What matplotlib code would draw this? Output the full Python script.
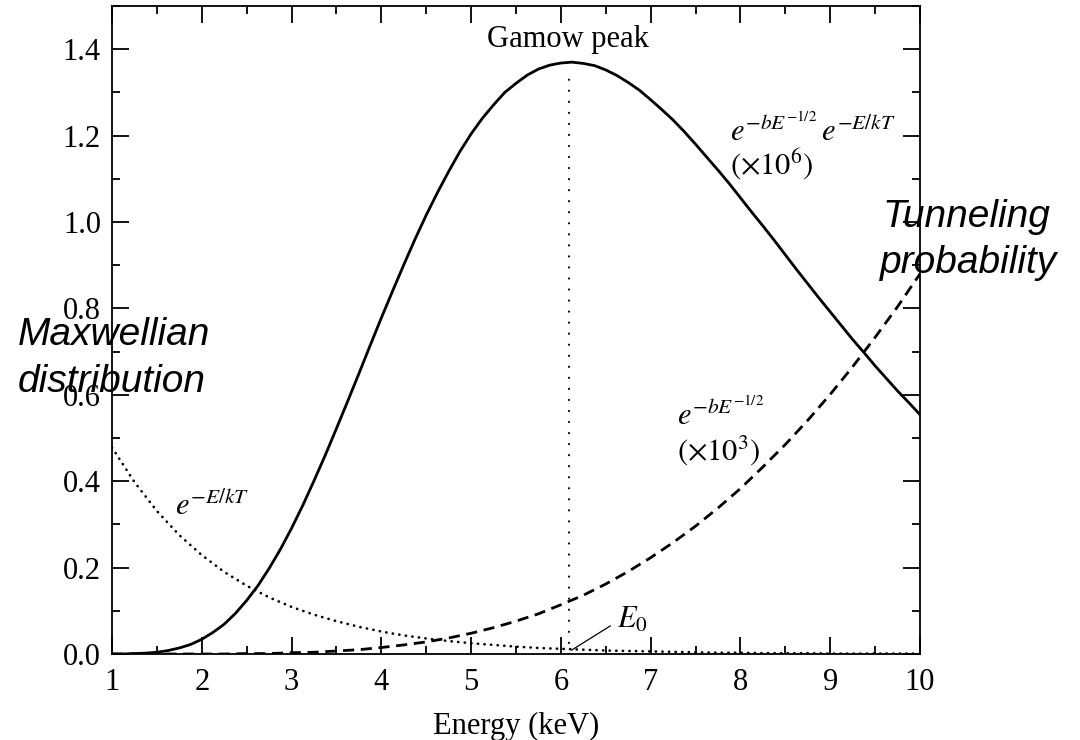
import matplotlib
matplotlib.use("Agg")
import matplotlib.pyplot as plt
from matplotlib.ticker import MultipleLocator, FormatStrFormatter

# values, every 0.25 keV
energy = [1.0, 1.25, 1.5, 1.75, 2.0, 2.25, 2.5, 2.75, 3.0, 3.25, 3.5, 3.75,
          4.0, 4.25, 4.5, 4.75, 5.0, 5.25, 5.5, 5.75, 6.0, 6.25, 6.5, 6.75,
          7.0, 7.25, 7.5, 7.75, 8.0, 8.25, 8.5, 8.75, 9.0, 9.25, 9.5, 9.75, 10.0]

maxwellian = [0.478, 0.398, 0.331, 0.275, 0.229, 0.190, 0.158, 0.131, 0.109,
              0.091, 0.076, 0.063, 0.052, 0.043, 0.036, 0.030, 0.025, 0.021,
              0.017, 0.014, 0.012, 0.010, 0.008, 0.007, 0.006, 0.005, 0.004,
              0.003, 0.003, 0.002, 0.002, 0.002, 0.001, 0.001, 0.001, 0.001, 0.001]

tunneling = [0.000, 0.000, 0.000, 0.000, 0.000, 0.000, 0.001, 0.001, 0.003,
             0.004, 0.007, 0.010, 0.015, 0.021, 0.028, 0.037, 0.048, 0.061,
             0.076, 0.093, 0.114, 0.136, 0.162, 0.191, 0.223, 0.258, 0.296,
             0.338, 0.383, 0.433, 0.485, 0.541, 0.601, 0.665, 0.733, 0.804, 0.880]

# the solid Gamow curve is read more finely, every 0.125 keV
energy_fine = [1.0, 1.125, 1.25, 1.375, 1.5, 1.625, 1.75, 1.875, 2.0, 2.125,
               2.25, 2.375, 2.5, 2.625, 2.75, 2.875, 3.0, 3.125, 3.25, 3.375,
               3.5, 3.625, 3.75, 3.875, 4.0, 4.125, 4.25, 4.375, 4.5, 4.625,
               4.75, 4.875, 5.0, 5.125, 5.25, 5.375, 5.5, 5.625, 5.75, 5.875,
               6.0, 6.125, 6.25, 6.375, 6.5, 6.625, 6.75, 6.875, 7.0, 7.125,
               7.25, 7.375, 7.5, 7.625, 7.75, 7.875, 8.0, 8.125, 8.25, 8.375,
               8.5, 8.625, 8.75, 8.875, 9.0, 9.125, 9.25, 9.375, 9.5, 9.625,
               9.75, 9.875, 10.0]

gamow = [0.000, 0.000, 0.001, 0.002, 0.004, 0.008, 0.014, 0.022, 0.034, 0.050,
         0.069, 0.094, 0.124, 0.158, 0.198, 0.242, 0.291, 0.344, 0.401, 0.460,
         0.522, 0.585, 0.649, 0.714, 0.778, 0.840, 0.901, 0.960, 1.016, 1.068,
         1.117, 1.163, 1.204, 1.240, 1.271, 1.300, 1.321, 1.340, 1.354, 1.363,
         1.368, 1.370, 1.367, 1.362, 1.352, 1.339, 1.323, 1.305, 1.283, 1.260,
         1.236, 1.209, 1.180, 1.150, 1.120, 1.089, 1.056, 1.023, 0.991, 0.958,
         0.924, 0.890, 0.857, 0.824, 0.792, 0.760, 0.728, 0.698, 0.667, 0.638,
         0.609, 0.582, 0.554]

e0 = 6.09
e0_height = 1.34

plt.rcParams.update({
    "font.family": ["Liberation Serif", "DejaVu Serif"],
    "mathtext.fontset": "stix",
    "font.size": 22,
})


def main():
    fig = plt.figure(figsize=(10.8, 7.4), dpi=100)
    ax = fig.add_axes([112 / 1080, 86 / 740, 808 / 1080, 648 / 740])

    ax.plot(energy_fine, gamow, color="black", lw=2.0, solid_joinstyle="round")
    ax.plot(energy, tunneling, color="black", lw=2.0,
            linestyle=(0, (4, 2.4)))
    ax.plot(energy, maxwellian, color="black", lw=1.9,
            linestyle=(0, (0.1, 2.4)), dash_capstyle="round")
    ax.vlines(e0, 0, e0_height, color="black", lw=1.5,
              linestyles=[(0, (0.1, 5.2))], capstyle="round")

    ax.set_xlim(1, 10)
    ax.set_ylim(0, 1.5)
    ax.xaxis.set_major_locator(MultipleLocator(1))
    ax.xaxis.set_minor_locator(MultipleLocator(0.5))
    ax.yaxis.set_minor_locator(MultipleLocator(0.1))
    ax.set_yticks([0.0, 0.2, 0.4, 0.6, 0.8, 1.0, 1.2, 1.4])
    ax.yaxis.set_major_formatter(FormatStrFormatter("%.1f"))

    ax.tick_params(which="both", direction="in", top=True, right=True,
                   width=1.3)
    ax.tick_params(which="major", length=12, labelsize=22)
    ax.tick_params(axis="x", which="major", pad=10)
    ax.tick_params(axis="y", which="major", pad=8)
    ax.tick_params(which="minor", length=6)
    for sp in ax.spines.values():
        sp.set_linewidth(1.3)

    ax.set_xlabel("Energy (keV)", fontsize=22, labelpad=11)

    # curve labels
    ax.text(6.08, 1.405, "Gamow peak", ha="center", va="baseline")
    ax.text(7.88, 1.187, r"$e^{-bE^{-1/2}}\,e^{-E/kT}$", ha="left", va="baseline")
    ax.text(7.88, 1.110, r"$(\times 10^6)$", ha="left", va="baseline")
    ax.text(7.29, 0.531, r"$e^{-bE^{-1/2}}$", ha="left", va="baseline")
    ax.text(7.29, 0.450, r"$(\times 10^3)$", ha="left", va="baseline")
    ax.text(1.70, 0.322, r"$e^{-E/kT}$", ha="left", va="baseline")
    ax.text(6.63, 0.06, r"$E_0$", ha="left", va="baseline")
    ax.plot([6.12, 6.55], [0.009, 0.065], color="black", lw=0.9)

    # overlaid italic captions
    cap = dict(family="Liberation Sans", style="italic", fontsize=28,
               va="baseline", ha="left")
    fig.text(18 / 1080, 1 - 345 / 740, "Maxwellian", **cap)
    fig.text(18 / 1080, 1 - 392 / 740, "distribution", **cap)
    fig.text(882 / 1080, 1 - 227 / 740, "Tunneling", **cap)
    fig.text(880 / 1080, 1 - 273 / 740, "probability", **cap)

    fig.savefig("out.png", dpi=100)


if __name__ == "__main__":
    main()
